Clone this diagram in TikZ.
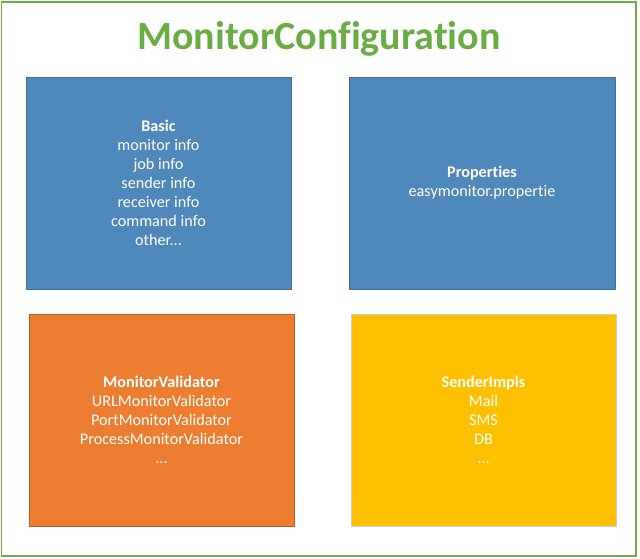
\documentclass[tikz,border=0pt]{standalone}
\usepackage{fontspec}
\setmainfont[Ligatures=NoCommon]{Carlito}
\definecolor{frameGreen}{HTML}{70AD47}
\definecolor{titleGreen}{HTML}{6AAD45}
\definecolor{boxBlue}{HTML}{4F88BB}
\definecolor{boxBlueEdge}{HTML}{41719C}
\definecolor{boxOrange}{HTML}{ED7D31}
\definecolor{boxOrangeEdge}{HTML}{B86026}
\definecolor{boxYellow}{HTML}{FFC000}
\definecolor{boxYellowEdge}{HTML}{C9CDD2}
\begin{document}
\begin{tikzpicture}[x=1pt,y=-1pt,
  panel/.style={draw=none, inner sep=0pt, text=white, align=center,
    font=\fontsize{16.2}{19}\selectfont},
  panelbox/.style={line width=1pt},
]
\useasboundingbox (0,0) rectangle (640,558);
\draw[frameGreen, line width=1.2pt] (1.5,2) rectangle (636,556);
\node (title) at (319,39) {\fontsize{40}{46}\selectfont\bfseries\color{titleGreen}MonitorConfiguration};

\draw[panelbox, draw=boxBlueEdge, fill=boxBlue] (26,77) rectangle (291,289);
\node[panel] (basic) at (158.5,183) {\textbf{Basic}\\monitor info\\job info\\sender info\\receiver info\\command info\\other...};

\draw[panelbox, draw=boxBlueEdge, fill=boxBlue] (349,77) rectangle (615,289);
\node[panel] (props) at (482,183) {\textbf{Properties}\\easymonitor.propertie};

\draw[panelbox, draw=boxOrangeEdge, fill=boxOrange] (29,314) rectangle (294,526);
\node[panel] (validator) at (161.5,420) {\textbf{MonitorValidator}\\URLMonitorValidator\\PortMonitorValidator\\ProcessMonitorValidator\\...};

\draw[panelbox, draw=boxYellowEdge, fill=boxYellow] (351,314) rectangle (616,526);
\node[panel] (sender) at (483.5,420) {\textbf{SenderImpls}\\Mail\\SMS\\DB\\...};
\end{tikzpicture}
\end{document}
